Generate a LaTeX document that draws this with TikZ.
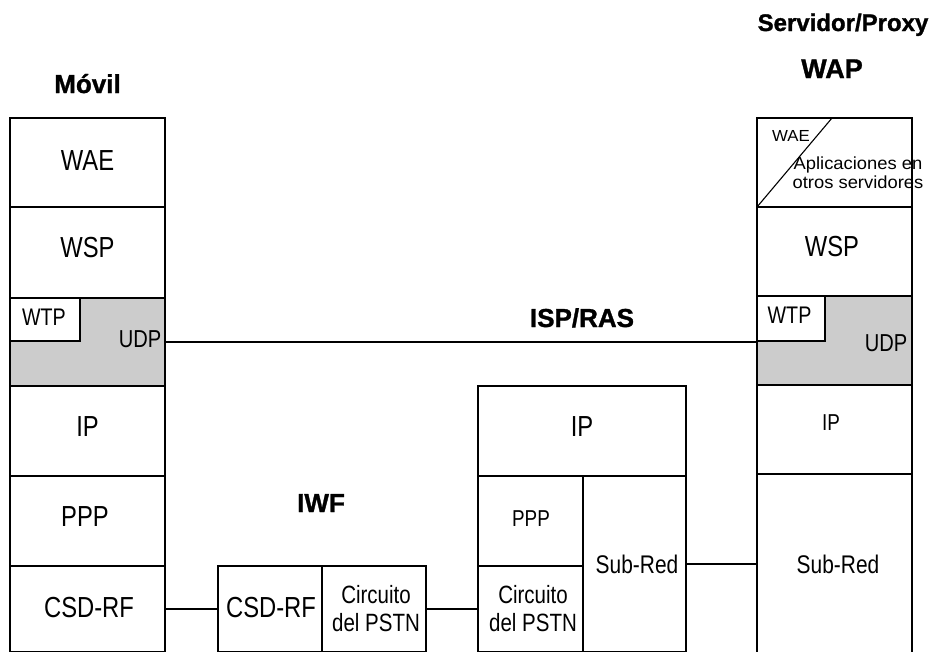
\documentclass[tikz,border=0pt]{standalone}
\usepackage{fontspec}
\setmainfont{Liberation Sans}[FakeStretch=0.82]
\newfontfamily\widefont{Liberation Sans}[FakeStretch=1.05]
\newfontfamily\titlefont{Liberation Sans Bold}[FakeBold=1.2]
\newcommand\fsz[2]{\fontsize{#1}{#2}\selectfont}
\definecolor{udpgray}{RGB}{204,204,204}
\begin{document}
\begin{tikzpicture}[x=1pt,y=-1pt,
  box/.style={draw=black, line width=1.6pt, inner sep=0pt, outer sep=0pt, anchor=north west, fill=white},
  graybox/.style={box, fill=udpgray},
  txt/.style={inner sep=0pt, align=center, font=\fsz{29}{32}},
  ttl/.style={inner sep=0pt, anchor=base, font=\titlefont\fsz{26}{30}},
  wire/.style={line width=1.6pt}]
\useasboundingbox (0,0) rectangle (931,651);
\clip (0,0) rectangle (931,651);

% ---------- Movil stack ----------
\node[box, minimum width=155pt, minimum height=89pt] (waeL) at (10,118) {};
\node[box, minimum width=155pt, minimum height=91pt] (wspL) at (10,207) {};
\node[graybox, minimum width=155pt, minimum height=88pt] (udpL) at (10,298) {};
\node[box, minimum width=70pt, minimum height=43pt] (wtpL) at (10,298) {};
\node[box, minimum width=155pt, minimum height=90pt] (ipL) at (10,386) {};
\node[box, minimum width=155pt, minimum height=90pt] (pppL) at (10,476) {};
\node[box, minimum width=155pt, minimum height=86pt] (csdL) at (10,566) {};

\node[txt] (waeLt) at (87.5,161) {WAE};
\node[txt] (wspLt) at (87.5,248) {WSP};
\node[txt, font=\fsz{24}{28}] (wtpLt) at (44,317) {WTP};
\node[txt, font=\fsz{24.5}{28}] (udpLt) at (140,339) {UDP};
\node[txt] (ipLt) at (87.5,427) {IP};
\node[txt] (pppLt) at (85,517) {PPP};
\node[txt] (csdLt) at (89,608) {CSD-RF};

% ---------- IWF ----------
\node[box, minimum width=104pt, minimum height=86pt] (csdI) at (218,566) {};
\node[box, minimum width=104pt, minimum height=86pt] (pstnI) at (322,566) {};
\node[txt] (csdIt) at (271,608) {CSD-RF};
\node[txt, font=\fsz{25}{28}] (pstnIt) at (376,609) {Circuito\\del PSTN};

% ---------- ISP/RAS middle stack ----------
\node[box, minimum width=208pt, minimum height=90pt] (ipM) at (478,386) {};
\node[box, minimum width=105pt, minimum height=90pt] (pppM) at (478,476) {};
\node[box, minimum width=105pt, minimum height=86pt] (pstnM) at (478,566) {};
\node[box, minimum width=103pt, minimum height=176pt] (subM) at (583,476) {};
\node[txt] (ipMt) at (582,427) {IP};
\node[txt, font=\fsz{23}{26}] (pppMt) at (531,519) {PPP};
\node[txt, font=\fsz{25}{28}] (pstnMt) at (533,608.5) {Circuito\\del PSTN};
\node[txt, font=\fsz{25.5}{28}] (subMt) at (637,564) {Sub-Red};

% ---------- Servidor/Proxy stack ----------
\node[box, minimum width=155pt, minimum height=89pt] (waeR) at (757,118) {};
\node[box, minimum width=155pt, minimum height=89pt] (wspR) at (757,207) {};
\node[graybox, minimum width=155pt, minimum height=89pt] (udpR) at (757,296) {};
\node[box, minimum width=68pt, minimum height=45pt] (wtpR) at (757,296) {};
\node[box, minimum width=155pt, minimum height=89pt] (ipR) at (757,385) {};
\node[box, minimum width=155pt, minimum height=180pt] (subR) at (757,474) {};
\draw[line width=1.1pt] (waeR.south west) -- ([xshift=75pt]waeR.north west);

\node[txt, font=\widefont\fsz{16}{18}] (waeRt) at (791,136) {WAE};
\node[txt, font=\widefont\fsz{17.5}{19}] (aplRt) at (858,172.5) {Aplicaciones en\\otros servidores};
\node[txt] (wspRt) at (832,246.5) {WSP};
\node[txt, font=\fsz{24}{28}] (wtpRt) at (789.5,315) {WTP};
\node[txt, font=\fsz{24.5}{28}] (udpRt) at (886,343) {UDP};
\node[txt, font=\fsz{23}{26}] (ipRt) at (831,423) {IP};
\node[txt, font=\fsz{25.5}{28}] (subRt) at (838,564) {Sub-Red};

% ---------- connectors ----------
\draw[wire] (udpL.east) -- (udpL.east -| udpR.west);
\draw[wire] (csdL.east) -- (csdI.west);
\draw[wire] (pstnI.east) -- (pstnM.west);
\draw[wire] (subM.east) -- (subR.west);

% ---------- titles ----------
\node[ttl] (movil) at (87.5,93) {Móvil};
\node[ttl, font=\titlefont\fsz{24}{28}] (serv) at (843,31) {Servidor/Proxy};
\node[ttl, font=\titlefont\fsz{27}{30}] (wap) at (832,78) {WAP};
\node[ttl] (isp) at (582,327) {ISP/RAS};
\node[ttl] (iwf) at (321,512) {IWF};
\end{tikzpicture}
\end{document}
